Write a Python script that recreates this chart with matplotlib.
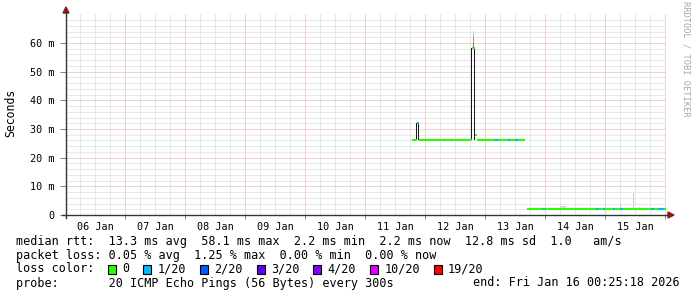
import matplotlib
matplotlib.use("Agg")
import matplotlib.pyplot as plt
from matplotlib.patches import Rectangle
from matplotlib.lines import Line2D
import numpy as np

W, H = 697, 297
# ---------------- data ----------------
day_labels = ["06 Jan", "07 Jan", "08 Jan", "09 Jan", "10 Jan",
              "11 Jan", "12 Jan", "13 Jan", "14 Jan", "15 Jan"]
y_tick_vals = [0, 10, 20, 30, 40, 50, 60]
y_tick_labels = ["0", "10 m", "20 m", "30 m", "40 m", "50 m", "60 m"]

# median RTT (ms) steps: start/end in days since 06 Jan 00:00
seg_start = [5.784, 5.868, 5.901, 6.784, 6.834, 6.868, 7.701]
seg_end   = [5.868, 5.901, 6.784, 6.834, 6.868, 7.668, 10.02]
seg_ms    = [26.3, 32.0, 26.3, 58.1, 28.0, 26.3, 2.2]
seg_loss  = [0, 1, 0, 0, 0, 0, 0]

# short periods with 1/20 packet loss
loss1_start = [7.168, 7.384, 7.501, 7.968, 8.851, 8.968, 9.134, 9.251, 9.768, 9.884]
loss1_end   = [7.218, 7.418, 7.551, 8.001, 8.901, 9.001, 9.168, 9.301, 9.818, 9.984]
loss1_ms    = [26.3, 26.3, 26.3, 2.2, 2.2, 2.2, 2.2, 2.2, 2.2, 2.2]

# smoke (ping spread): start, end, low, high, grey level
smoke_start = [5.851, 5.884, 6.768, 6.818, 6.801, 6.801, 6.801, 6.801, 9.251, 9.468, 9.568, 8.251]
smoke_end   = [5.868, 5.901, 6.784, 6.834, 6.818, 6.818, 6.818, 6.818, 9.268, 9.485, 9.585, 8.351]
smoke_lo    = [26.3, 26.3, 26.3, 26.3, 58.1, 60.0, 62.0, 63.5, 2.2, 2.2, 2.2, 2.2]
smoke_hi    = [32.0, 32.0, 58.1, 58.1, 60.0, 62.0, 63.5, 64.5, 3.8, 7.7, 2.9, 3.2]
smoke_grey  = [0.1, 0.1, 0.1, 0.1, 0.45, 0.6, 0.75, 0.88, 0.8, 0.8, 0.8, 0.85]

loss_names  = ["0", "1/20", "2/20", "3/20", "4/20", "10/20", "19/20"]
loss_colors = ["#26ff00", "#00b8ff", "#0059ff", "#5e00ff", "#7e00ff", "#dd00ff", "#ff0000"]

stats_line = "median rtt:  13.3 ms avg  58.1 ms max  2.2 ms min  2.2 ms now  12.8 ms sd  1.0   am/s"
loss_line = "packet loss: 0.05 % avg  1.25 % max  0.00 % min  0.00 % now"
probe_line = "probe:       20 ICMP Echo Pings (56 Bytes) every 300s"
end_line = "end: Fri Jan 16 00:25:18 2026"

# ---------------- layout ----------------
x0_day, n_days = 0.0176, 10.0
left, right, top, bottom = 66, 666, 12.9, 215
ymax = 70.5

fig = plt.figure(figsize=(W / 100, H / 100), dpi=100)
fig.patch.set_facecolor("white")
ax = fig.add_axes([left / W, 1 - bottom / H, (right - left) / W, (bottom - top) / H])
ax.set_xlim(x0_day, x0_day + n_days)
ax.set_ylim(0, ymax)
for s in ax.spines.values():
    s.set_visible(False)
ax.set_facecolor("white")

mono = "DejaVu Sans Mono"
minor_c, major_c = "#d2d2d2", "#eba6a6"
dot = (0, (1, 1))
gkw = dict(lw=0.72, ls=dot, zorder=0)
# grid
for h in np.arange(0, 11, 0.25):
    if x0_day < h < x0_day + n_days and abs(h - round(h)) > 1e-6:
        ax.axvline(h, color=minor_c, **gkw)
for d in range(1, 11):
    if d < x0_day + n_days:
        ax.axvline(d, color=major_c, **gkw)
for v in np.arange(2, ymax, 2):
    if v % 10 != 0:
        ax.axhline(v, color=minor_c, **gkw)
for v in y_tick_vals[1:]:
    ax.axhline(v, color=major_c, **gkw)

# smoke
for a, b, lo, hi, g in zip(smoke_start, smoke_end, smoke_lo, smoke_hi, smoke_grey):
    ax.add_patch(Rectangle((a, lo), b - a, hi - lo, facecolor=(g, g, g), edgecolor="none", zorder=2))

# median steps
for a, b, v, l in zip(seg_start, seg_end, seg_ms, seg_loss):
    ax.plot([a, b], [v, v], color=loss_colors[l], lw=1.5, solid_capstyle="butt", zorder=3)
for a, b, v in zip(loss1_start, loss1_end, loss1_ms):
    ax.plot([a, b], [v, v], color=loss_colors[1], lw=1.5, solid_capstyle="butt", zorder=4)

# ticks
ax.set_xticks(range(1, 11))
ax.set_xticklabels([])
ax.set_xticks([d + 0.5 for d in range(10)], minor=True)
ax.set_xticklabels(day_labels, minor=True, fontfamily=mono, fontsize=7.3)
ax.tick_params(axis="x", which="major", length=3, color="#888888", width=0.72)
ax.tick_params(axis="x", which="minor", length=0, pad=5)
ax.set_yticks(y_tick_vals)
ax.set_yticklabels(y_tick_labels, fontfamily=mono, fontsize=7.3)
ax.tick_params(axis="y", length=4, color="#888888", width=0.72, pad=4)

# axis lines and arrows
fig.add_artist(Line2D([62 / W, 668 / W], [1 - 215 / H] * 2, color="#333333", lw=1.0))
fig.add_artist(Line2D([66 / W] * 2, [1 - 218 / H, 1 - 12 / H], color="#333333", lw=1.0))
ar = "#8b1a1a"
fig.add_artist(plt.Polygon([[668 / W, 1 - 212 / H], [674 / W, 1 - 215 / H], [668 / W, 1 - 218 / H]],
                           closed=True, color=ar, transform=fig.transFigure))
fig.add_artist(plt.Polygon([[63 / W, 1 - 13 / H], [66 / W, 1 - 7 / H], [69 / W, 1 - 13 / H]],
                           closed=True, color=ar, transform=fig.transFigure))

# y label
fig.text(11 / W, 1 - 113 / H, "Seconds", rotation=90, ha="center", va="center",
         fontfamily=mono, fontsize=8.3)
# watermark
fig.text(686 / W, 1 - 59 / H, "RRDTOOL / TOBI OETIKER", rotation=270, ha="center", va="center",
         fontfamily=mono, fontsize=6.2, color="#a8a8a8")

# legend text
fs = 8.5
cw = 7.08
def line_y(i):
    return 1 - (241 + 14 * i) / H
fig.text(16 / W, line_y(0), stats_line, fontfamily=mono, fontsize=fs, va="center")
fig.text(16 / W, line_y(1), loss_line, fontfamily=mono, fontsize=fs, va="center")
fig.text(16 / W, line_y(2), "loss color:", fontfamily=mono, fontsize=fs, va="center")
pos = 13
for name, col in zip(loss_names, loss_colors):
    xs = 16 + pos * cw
    fig.add_artist(Rectangle((xs / W, 1 - (269 + 4.5) / H), 8 / W, 9 / H, facecolor=col,
                             edgecolor="black", lw=0.8, transform=fig.transFigure))
    fig.text((xs + 2 * cw) / W, line_y(2), name, fontfamily=mono, fontsize=fs, va="center")
    pos += 2 + len(name) + 2
fig.text(16 / W, line_y(3), probe_line, fontfamily=mono, fontsize=fs, va="center")
fig.text(680 / W, line_y(3), end_line, fontfamily=mono, fontsize=fs, va="center", ha="right")

fig.savefig("out.png", dpi=100, facecolor="white")
